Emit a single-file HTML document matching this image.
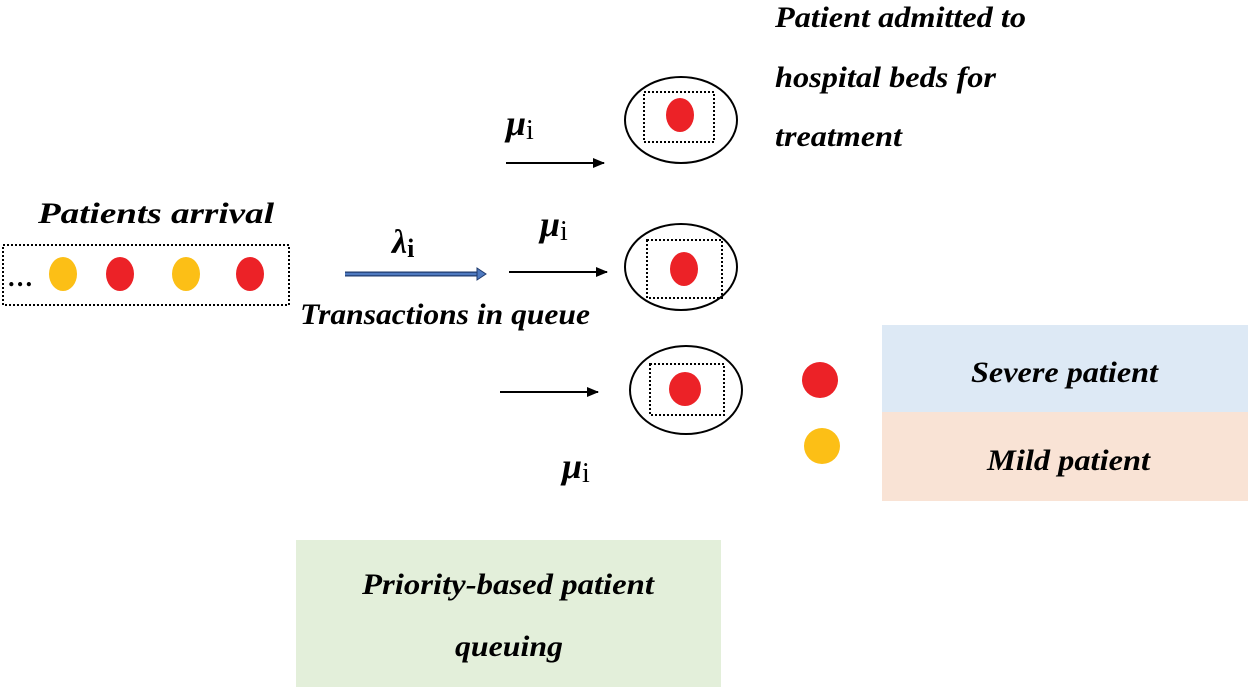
<!DOCTYPE html>
<html><head><meta charset="utf-8"><style>
html,body{margin:0;padding:0;background:#fff;}
svg{display:block;}
text{font-family:"Liberation Serif",serif;font-style:italic;font-weight:bold;fill:#000;}
</style></head><body>
<svg width="1250" height="690" viewBox="0 0 1250 690" xmlns="http://www.w3.org/2000/svg">
<defs>
<marker id="ah" markerWidth="12" markerHeight="10" refX="11" refY="5" orient="auto" markerUnits="userSpaceOnUse">
<path d="M0,0 L12,5 L0,10 Z" fill="#000"/></marker>
</defs>
<text x="775" y="27" font-size="30" textLength="251" lengthAdjust="spacingAndGlyphs">Patient admitted to</text>
<text x="775" y="87" font-size="30" textLength="221" lengthAdjust="spacingAndGlyphs">hospital beds for</text>
<text x="775" y="146" font-size="30" textLength="127" lengthAdjust="spacingAndGlyphs">treatment</text>

<text x="38" y="223" font-size="30" textLength="236" lengthAdjust="spacingAndGlyphs">Patients arrival</text>
<rect x="3" y="245" width="286" height="60" fill="none" stroke="#000" stroke-width="2" stroke-dasharray="2,2"/>
<text x="8" y="286" font-size="26" font-style="normal" font-weight="normal">…</text>
<ellipse cx="63" cy="274" rx="14" ry="17" fill="#fcbf16"/>
<ellipse cx="120" cy="274" rx="14" ry="17" fill="#ec2227"/>
<ellipse cx="186" cy="274" rx="14" ry="17" fill="#fcbf16"/>
<ellipse cx="250" cy="274" rx="14" ry="17" fill="#ec2227"/>

<text x="392" y="253" font-size="34" font-weight="normal">λ<tspan font-style="normal" font-size="26" dy="4">i</tspan></text>
<line x1="345" y1="274" x2="478" y2="274" stroke="#1f3b6e" stroke-width="5"/>
<line x1="345" y1="274" x2="478" y2="274" stroke="#4f7ac0" stroke-width="2.5"/>
<path d="M477,268 L486,274 L477,280 Z" fill="#4f7ac0" stroke="#1f3b6e" stroke-width="1"/>
<text x="300" y="324" font-size="30" textLength="290" lengthAdjust="spacingAndGlyphs">Transactions in queue</text>

<text x="506" y="135" font-size="36">μ<tspan font-style="normal" font-weight="normal" font-size="28" dy="4">i</tspan></text>
<text x="540" y="236" font-size="36">μ<tspan font-style="normal" font-weight="normal" font-size="28" dy="4">i</tspan></text>
<text x="562" y="478" font-size="36">μ<tspan font-style="normal" font-weight="normal" font-size="28" dy="4">i</tspan></text>

<line x1="506" y1="163" x2="604" y2="163" stroke="#000" stroke-width="2" marker-end="url(#ah)"/>
<line x1="509" y1="272" x2="607" y2="272" stroke="#000" stroke-width="2" marker-end="url(#ah)"/>
<line x1="500" y1="392" x2="598" y2="392" stroke="#000" stroke-width="2" marker-end="url(#ah)"/>

<ellipse cx="681" cy="120" rx="56" ry="43" fill="none" stroke="#000" stroke-width="2"/>
<rect x="644" y="92" width="70" height="50" fill="none" stroke="#000" stroke-width="2" stroke-dasharray="2,2"/>
<ellipse cx="680" cy="115" rx="14" ry="17" fill="#ec2227"/>

<ellipse cx="681" cy="267" rx="56" ry="43" fill="none" stroke="#000" stroke-width="2"/>
<rect x="647" y="240" width="75" height="58" fill="none" stroke="#000" stroke-width="2" stroke-dasharray="2,2"/>
<ellipse cx="684" cy="269" rx="14" ry="17" fill="#ec2227"/>

<ellipse cx="686" cy="390" rx="56" ry="44" fill="none" stroke="#000" stroke-width="2"/>
<rect x="650" y="364" width="74" height="51" fill="none" stroke="#000" stroke-width="2" stroke-dasharray="2,2"/>
<ellipse cx="685" cy="389" rx="16" ry="17" fill="#ec2227"/>

<circle cx="820" cy="380" r="18" fill="#ec2227"/>
<circle cx="822" cy="446" r="18" fill="#fcbf16"/>
<rect x="882" y="325" width="366" height="87" fill="#dde9f5"/>
<rect x="882" y="412" width="366" height="89" fill="#f9e3d5"/>
<text x="971" y="382" font-size="30" textLength="187" lengthAdjust="spacingAndGlyphs">Severe patient</text>
<text x="987" y="470" font-size="30" textLength="163" lengthAdjust="spacingAndGlyphs">Mild patient</text>

<rect x="296" y="540" width="425" height="147" fill="#e3efda"/>
<text x="362" y="594" font-size="30" textLength="292" lengthAdjust="spacingAndGlyphs">Priority-based patient</text>
<text x="455" y="656" font-size="30" textLength="108" lengthAdjust="spacingAndGlyphs">queuing</text>
</svg>
</body></html>
